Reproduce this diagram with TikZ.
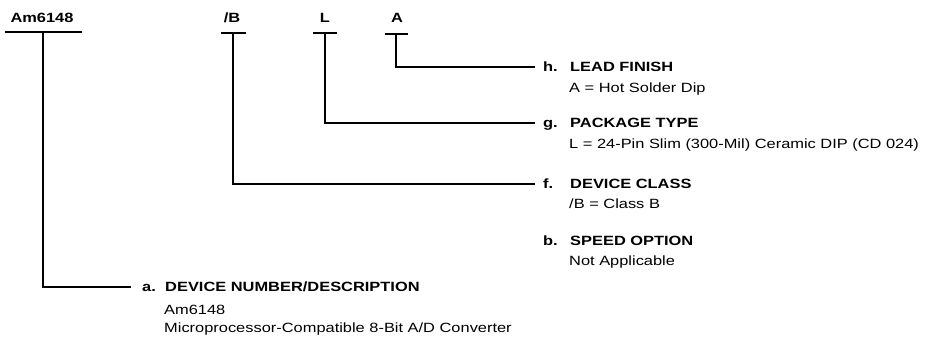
\documentclass[tikz,border=0pt]{standalone}
\usepackage{fontspec}
\setmainfont{Liberation Sans}[FakeStretch=1.225]
\begin{document}
\begin{tikzpicture}[x=1pt,y=-1pt,
  lbl/.style={font=\bfseries\fontsize{13.4}{15}\selectfont, inner sep=0pt, anchor=base},
  ttl/.style={font=\bfseries\fontsize{13.4}{15}\selectfont, inner sep=0pt, anchor=base west, text height=9.5pt, text depth=0pt},
  sub/.style={font=\fontsize{13.4}{18.5}\selectfont, inner sep=0pt, anchor=base west},
  bar/.style={line width=2pt},
  conn/.style={line width=1.6pt}]
\useasboundingbox (0,0) rectangle (934,340);

% top code labels
\node[lbl] (tAm) at (42,22.5) {Am6148};
\node[lbl] (tB) at (232,22.5) {/B};
\node[lbl] (tL) at (325,22.5) {L};
\node[lbl] (tA) at (397,22.5) {A};

% bars under labels
\draw[bar] (5,32) -- (82,32);
\draw[bar] (221,33) -- (246,33);
\draw[bar] (313,33) -- (337,33);
\draw[bar] (385,34) -- (408,34);

\coordinate (jAm) at (43,32);
\coordinate (jB) at (233,33);
\coordinate (jL) at (325,33);
\coordinate (jA) at (396,34);

% h
\node[ttl] (lh) at (543,71.5) {h.};
\node[ttl] (th) at (570,71.5) {LEAD FINISH};
\node[sub] (sh) at (569,92) {A = Hot Solder Dip};
% g
\node[ttl] (lg) at (543,127.5) {g.};
\node[ttl] (tg) at (570,127.5) {PACKAGE TYPE};
\node[sub] (sg) at (569,148) {L = 24-Pin Slim (300-Mil) Ceramic DIP (CD 024)};
% f
\node[ttl] (lf) at (543,188.5) {f.};
\node[ttl] (tf) at (570,188.5) {DEVICE CLASS};
\node[sub] (sf) at (569,208.5) {/B = Class B};
% b
\node[ttl] (lb) at (543,245.5) {b.};
\node[ttl] (tb) at (570,245.5) {SPEED OPTION};
\node[sub] (sb) at (569,265.5) {Not Applicable};
% a
\node[ttl] (la) at (142,291.5) {a.};
\node[ttl] (ta) at (165,291.5) {DEVICE NUMBER/DESCRIPTION};
\node[sub] (sa1) at (164,314) {Am6148};
\node[sub] (sa2) at (164,332) {Microprocessor-Compatible 8-Bit A/D Converter};

% connectors
\draw[conn] (jA) |- ([xshift=-8pt]lh.west);
\draw[conn] (jL) |- ([xshift=-8pt]lg.west);
\draw[conn] (jB) |- ([xshift=-8pt]lf.west);
\draw[conn] (jAm) |- ([xshift=-11pt]la.west);
\end{tikzpicture}
\end{document}
